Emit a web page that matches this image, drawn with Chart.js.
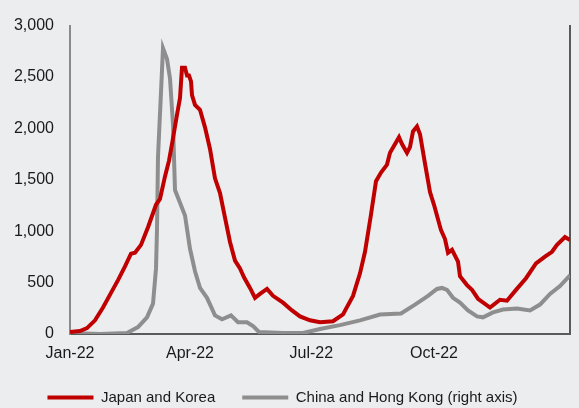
<!DOCTYPE html>
<html>
<head>
<meta charset="utf-8">
<script src="https://cdn.jsdelivr.net/npm/chart.js"></script>
<style>
  html, body { margin: 0; padding: 0; background: #ecedef; }
  #wrap { width: 579px; height: 408px; }
</style>
</head>
<body>
<div id="wrap"><canvas id="covidChart" width="579" height="408"></canvas></div>
<script>
// day number from 1 Jan 2022
const monthTicks = [0, 90, 181, 273];
const monthLabels = ['Jan-22', 'Apr-22', 'Jul-22', 'Oct-22'];

const jkDays = [0, 7.5, 12.75, 18.75, 24.75, 30.75, 36, 41.25, 45.75, 48.75, 53.25, 58.5, 64.5, 67.5, 71.25,
    74.25, 76.5, 80.25, 82.5, 84, 86.25, 87.75, 89.25, 90.75, 91.5, 93.75, 97.5, 101.25, 105, 108.75, 112.5,
    116.25, 120, 123.75, 127.5, 130.5, 135, 138.75, 142.5, 147.75, 152.25, 159.75, 166.5, 172.5, 180, 187.5,
    197.25, 204.75, 212.25, 217.5, 221.25, 225.75, 229.5, 233.25, 237.75, 240, 246.75, 249, 252.75, 255,
    257.25, 260.25, 262.5, 266.25, 270, 273, 278.25, 281.25, 283.5, 286.5, 291, 292.5, 297.75, 301.5, 306,
    315, 322.5, 327.75, 334.5, 342, 349.5, 356.25, 361.5, 365.25, 371.25, 375];
const jkValues = [19, 29, 57, 133, 257, 400, 524, 657, 781, 790, 867, 1038, 1257, 1314, 1533,
    1686, 1848, 2133, 2295, 2590, 2590, 2514, 2514, 2457, 2324, 2229, 2181, 2010, 1800, 1514, 1371,
    1133, 895, 714, 638, 552, 448, 352, 390, 438, 371, 305, 229, 171, 133, 114,
    124, 190, 371, 590, 800, 1162, 1486, 1571, 1648, 1762, 1914, 1848, 1762, 1819,
    1971, 2019, 1943, 1657, 1381, 1257, 1010, 924, 790, 819, 705, 562, 476, 429, 343,
    257, 333, 324, 429, 543, 686, 752, 800, 867, 943, 914];

const chDays = [0, 22.5, 42.75, 51, 57.75, 62.25, 64.5, 65.25, 66, 68.25, 69.75, 72.75, 75, 77.25, 78.75,
    82.5, 86.25, 90, 93.75, 97.5, 102.75, 108.75, 114, 120.75, 126, 132.75, 137.25, 141.75, 159.75, 174.75,
    187.5, 202.5, 217.5, 232.5, 248.25, 258.75, 268.5, 275.25, 279, 282.75, 287.25, 292.5, 298.5, 305.25,
    309.75, 317.25, 324.75, 335.25, 345, 352.5, 360, 367.5, 375];
const chValues = [10, 0, 10, 67, 162, 295, 638, 1019, 1724, 2352, 2781, 2676, 2486, 2038, 1400,
    1276, 1152, 829, 610, 448, 352, 181, 143, 181, 114, 114, 76, 19, 10, 10,
    48, 86, 133, 190, 200, 286, 371, 438, 448, 429, 352, 305, 229, 171,
    162, 210, 238, 248, 229, 286, 390, 467, 571];

const toPoints = (xs, ys) => xs.map((x, i) => ({ x: x, y: ys[i] }));

Chart.defaults.font.family = "'Liberation Sans', Arial, sans-serif";
Chart.defaults.font.size = 16;
Chart.defaults.color = '#1a1a1a';

// keep the legend short and nudge it a bit to the left, like the original
const legendTweak = {
    id: 'legendTweak',
    beforeUpdate(chart) {
        const legend = chart.legend;
        if (!legend || legend._tweaked) return;
        legend._tweaked = true;
        const fit = legend.fit;
        legend.fit = function () {
            fit.call(this);
            this.height = 45;
        };
        const draw = legend.draw;
        legend.draw = function () {
            const ctx = this.ctx;
            ctx.save();
            ctx.translate(-7, 0);
            draw.apply(this, arguments);
            ctx.restore();
        };
    }
};

new Chart(document.getElementById('covidChart'), {
    type: 'line',
    data: {
        datasets: [
            {
                label: 'Japan and Korea',
                data: toPoints(jkDays, jkValues),
                borderColor: '#c00000',
                backgroundColor: '#c00000',
                borderWidth: 4,
                pointRadius: 0,
                tension: 0,
                yAxisID: 'y'
            },
            {
                label: 'China and Hong Kong (right axis)',
                data: toPoints(chDays, chValues),
                borderColor: '#8e8e8e',
                backgroundColor: '#8e8e8e',
                borderWidth: 4,
                pointRadius: 0,
                tension: 0,
                yAxisID: 'y1'
            }
        ]
    },
    plugins: [legendTweak],
    options: {
        responsive: false,
        animation: false,
        layout: { padding: { top: 19, left: 0, right: 0, bottom: 0 } },
        plugins: {
            tooltip: { enabled: false },
            legend: {
                position: 'bottom',
                align: 'center',
                labels: {
                    boxWidth: 46,
                    boxHeight: 4,
                    padding: 27,
                    color: '#1a1a1a',
                    font: { size: 15 },
                    generateLabels: chart => Chart.defaults.plugins.legend.labels.generateLabels(chart)
                        .map(item => Object.assign(item, { lineWidth: 0 }))
                }
            }
        },
        scales: {
            x: {
                type: 'linear',
                min: 0,
                max: 375,
                afterBuildTicks: axis => { axis.ticks = monthTicks.map(v => ({ value: v })); },
                afterFit: axis => { axis.height = 29; },
                ticks: {
                    padding: 10,
                    maxRotation: 0,
                    callback: value => monthLabels[monthTicks.indexOf(value)]
                },
                grid: { display: false, drawTicks: false },
                border: { color: '#5a5a5a', width: 2 }
            },
            y: {
                position: 'left',
                min: 0,
                max: 3000,
                afterFit: axis => { axis.width = 70; },
                ticks: {
                    stepSize: 500,
                    padding: 16,
                    callback: value => value.toLocaleString('en-US')
                },
                grid: { display: false, drawTicks: false },
                border: { color: '#8a8a8a', width: 2 }
            },
            y1: {
                position: 'right',
                min: 0,
                max: 3000,
                afterFit: axis => { axis.width = 9; },
                ticks: { display: false },
                grid: { display: false, drawTicks: false },
                border: { color: '#5a5a5a', width: 2 }
            }
        }
    }
});
</script>
</body>
</html>
